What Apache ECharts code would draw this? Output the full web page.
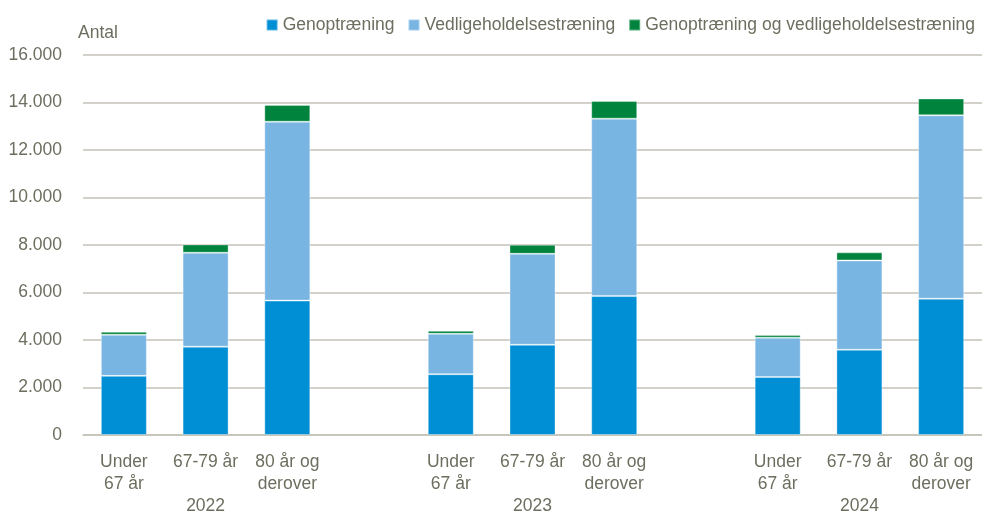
<!DOCTYPE html>
<html><head><meta charset="utf-8">
<script src="https://cdn.jsdelivr.net/npm/echarts@6/dist/echarts.min.js"></script>
<style>html,body{margin:0;padding:0;background:#fff}#c{width:982px;height:512px}</style>
</head><body><div id="c"></div>
<script>
const years = ['2022', '2023', '2024'];
const ageGroups = ['Under\n67 år', '67-79 år', '80 år og\nderover'];
const seriesNames = ['Genoptræning', 'Vedligeholdelsestræning', 'Genoptræning og vedligeholdelsestræning'];
// values per year: [Under 67, 67-79, 80+]
const genoptraening = [[2490, 3720, 5660], [2560, 3800, 5850], [2440, 3590, 5740]];
const vedligehold = [[1730, 3955, 7530], [1700, 3830, 7470], [1660, 3760, 7720]];
const begge = [[125, 350, 710], [130, 380, 740], [115, 340, 710]];
const yTicks = [0, 2000, 4000, 6000, 8000, 10000, 12000, 14000, 16000];
const colors = ['#008fd5', '#78b5e3', '#00843d'];

const FONT = "'Liberation Sans',Arial,sans-serif";
const FS = 17.5;
const TXT = '#6d6e5f';

// build category axis with an empty slot between year groups
const cats = [], yearLabels = [];
years.forEach((y, i) => {
  if (i > 0) { cats.push(''); yearLabels.push(''); }
  ageGroups.forEach((a, j) => { cats.push(a); yearLabels.push(j === 1 ? y : ''); });
});
function flat(arr) {
  const out = [];
  arr.forEach((g, i) => { if (i > 0) out.push('-'); g.forEach(v => out.push(v)); });
  return out;
}
const dataSets = [genoptraening, vedligehold, begge];

const chart = echarts.init(document.getElementById('c'));
chart.setOption({
  animation: false,
  textStyle: { fontFamily: FONT },
  color: colors,
  title: { text: 'Antal', left: 73, top: 19, textStyle: { fontFamily: FONT, fontSize: FS, fontWeight: 'normal', color: TXT } },
  legend: {
    right: 2, top: 11, itemWidth: 11, itemHeight: 11, itemGap: 13,
    icon: 'rect',
    textStyle: { fontFamily: FONT, fontSize: FS, color: TXT },
    data: seriesNames
  },
  grid: { left: 83, right: 0, top: 55, bottom: 77, containLabel: false, outerBoundsMode: 'none' },
  xAxis: [{
    type: 'category', data: cats, position: 'bottom',
    axisLine: { lineStyle: { color: '#c4c2b8', width: 1.5 } },
    axisTick: { show: false },
    axisLabel: { interval: 0, fontFamily: FONT, fontSize: FS, lineHeight: 22, color: TXT, margin: 16, align: 'center' }
  }, {
    type: 'category', data: yearLabels, position: 'bottom', offset: 46,
    axisLine: { show: false }, axisTick: { show: false },
    axisLabel: { interval: 0, fontFamily: FONT, fontSize: FS, color: TXT, margin: 16 }
  }],
  yAxis: {
    type: 'value', min: 0, max: 16000, interval: 2000,
    axisLabel: { fontFamily: FONT, fontSize: FS, color: TXT, margin: 21,
      formatter: v => v === 0 ? '0' : String(v).replace(/\B(?=(\d{3})+(?!\d))/g, '.') },
    splitLine: { lineStyle: { color: '#c4c2b8', width: 1.5 } },
    axisLine: { show: false }, axisTick: { show: false }
  },
  series: seriesNames.map((n, i) => ({
    name: n, type: 'bar', stack: 'total', xAxisIndex: 0,
    barWidth: 46,
    itemStyle: { color: colors[i], borderColor: 'rgba(255,255,255,0.35)', borderWidth: 1 },
    data: flat(dataSets[i])
  }))
});
</script></body></html>
